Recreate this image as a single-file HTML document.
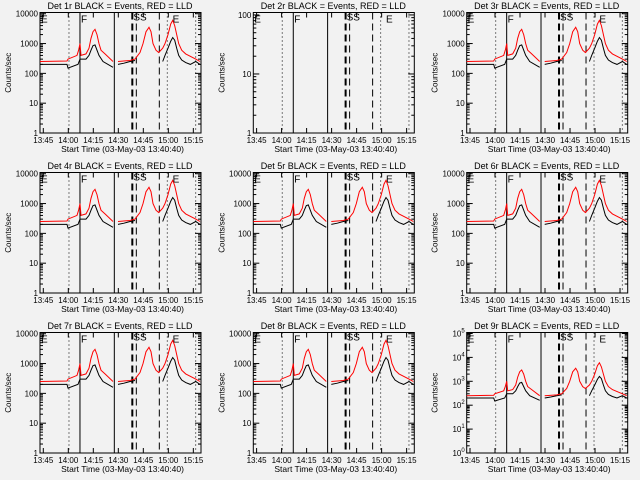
<!DOCTYPE html>
<html><head><meta charset="utf-8">
<style>
html,body{margin:0;padding:0;background:#f2f2f2;}
svg{display:block;}
text{font-family:"Liberation Sans",sans-serif;fill:#000;}
</style></head>
<body>
<svg id="chart" width="640" height="480" viewBox="0 0 640 480" xmlns="http://www.w3.org/2000/svg"></svg>
<script>
// minutes since 13:45
const redT = [-2,14.2,14.8,20.2,21.2,22,22.6,25.6,27.4,28.6,29.8,31,32.2,33.4,34.6,37,41.8,null,44.8,52,55,58,59.8,61.6,63.4,64.6,65.8,67.6,69.2,71.6,73,74.8,76.4,77.6,78.8,80,81.2,83,85.4,91.4,94];
const redV = [250,260,300,400,600,1000,400,450,700,1500,2500,3000,2000,1000,600,450,250,null,250,270,300,500,1000,2500,3500,2500,1000,600,500,700,1000,2000,4500,6000,4000,2000,1000,600,450,300,250];
const blkT = [-2,14.2,14.8,20.8,22,25.6,27.4,28.6,29.8,31,32.2,33.4,35.8,41.8,null,44.8,48.4,52,55,null,71.6,73,74.8,76.4,77.6,78.8,80,81.2,83,85.4,88.2,91.4,94];
const blkV = [200,200,150,200,300,300,400,600,850,900,600,400,250,160,null,200,220,250,270,null,250,400,700,1200,1600,1300,700,400,280,230,200,250,200];
const detNames = ["1r","2r","3r","4r","5r","6r","7r","8r","9r"];
const xTickLabels = ["13:45","14:00","14:15","14:30","14:45","15:00","15:15"];
const xTickMins = [0,15,30,45,60,75,90];
const vlineMins = [15.4,22,42.6,53.4,55.8,69.6,74.4,91.4];
const vlineStyle = ["dot","solid","solid","thick","dash","dash","dot","dot"];

const NS="http://www.w3.org/2000/svg";
const svg=document.getElementById('chart');
function mk(tag,attrs,parent){const e=document.createElementNS(NS,tag);for(const k in attrs)e.setAttribute(k,attrs[k]);(parent||svg).appendChild(e);return e;}

detNames.forEach((d,i)=>{
  const ox=(i%3)*213.33, oy=Math.floor(i/3)*160;
  const g=mk('g',{transform:`translate(${ox.toFixed(1)},${oy})`});
  
  
  const L=40,R=201,T=12.5,B=133;
  let ymin=1,ymax=11000,decades=[1,10,100,1000,10000],lab=["1","10","100","1000","10000"];
  if(i===1){ymax=110;decades=[1,10,100];lab=["1","10","100"];}
  if(i===8){ymax=110000;decades=[1,10,100,1000,10000,100000];lab=["0","1","2","3","4","5"];}
  const xs=m=>43.3+m*1.667;
  const ys=v=>B-(Math.log10(v)-Math.log10(ymin))/(Math.log10(ymax)-Math.log10(ymin))*(B-T);
  const t=mk('text',{x:120,y:9,'font-size':9,'text-anchor':'middle'},g);t.textContent=`Det ${d} BLACK = Events, RED = LLD`;
  
  const box=mk('rect',{x:L,y:T,width:R-L,height:B-T,fill:'none',stroke:'#000','stroke-width':1},g);
  
  decades.forEach((v,k)=>{
    const y=ys(v);
    mk('line',{x1:L,x2:L+6,y1:y,y2:y,stroke:'#000'},g);
    mk('line',{x1:R-6,x2:R,y1:y,y2:y,stroke:'#000'},g);
    const tx=mk('text',{x:L-2,y:y+3,'font-size':8,'text-anchor':'end'},g);
    if(i===8){tx.textContent='10';const s=mk('tspan',{'font-size':6,dy:-4},tx);s.textContent=lab[k];}
    else tx.textContent=lab[k];
    
    if(k<decades.length-1){for(let m=2;m<10;m++){const yy=ys(v*m);mk('line',{x1:L,x2:L+3,y1:yy,y2:yy,stroke:'#000'},g);mk('line',{x1:R-3,x2:R,y1:yy,y2:yy,stroke:'#000'},g);}}
  });
  const yl=mk('text',{x:0,y:0,'font-size':8,'text-anchor':'middle',transform:`translate(11,${(T+B)/2}) rotate(-90)`},g);
  yl.textContent='Counts/sec';
  xTickMins.forEach((m,k)=>{
    const x=xs(m);
    mk('line',{x1:x,x2:x,y1:B,y2:B-5,stroke:'#000'},g);
    mk('line',{x1:x,x2:x,y1:T,y2:T+5,stroke:'#000'},g);
    const tx=mk('text',{x:x,y:B+10,'font-size':8,'text-anchor':'middle'},g);tx.textContent=xTickLabels[k];
    
  });
  const xl=mk('text',{x:(L+R)/2+2,y:B+19,'font-size':8.5,'text-anchor':'middle'},g);
  xl.textContent='Start Time (03-May-03 13:40:40)';
  vlineMins.forEach((m,k)=>{
    const x=xs(m),st=vlineStyle[k];
    const a={x1:x,x2:x,y1:T,y2:B,stroke:'#000','stroke-width':st==='thick'?2:1};
    if(st==='dot')a['stroke-dasharray']='1,3';
    if(st==='dash'||st==='thick')a['stroke-dasharray']='7,4';
    const ln=mk('line',a,g);
  });
  [[xs(-2),'E'],[xs(22),'F'],[xs(77),'E']].forEach(([x,c])=>{
    const tx=mk('text',{x:x+1,y:T+10,'font-size':10},g);tx.textContent=c;
    
  });
  const ss=mk('text',{x:xs(54),y:T+8,'font-size':10},g);ss.textContent='SS';
  
  if(i===1) return;
  function path(T_,V_,col,name){
    let dstr='',pen=false;
    T_.forEach((m,k)=>{if(m===null){pen=false;return;}dstr+=(pen?'L':'M')+xs(m).toFixed(1)+','+ys(V_[k]).toFixed(1);pen=true;});
    const p=mk('path',{d:dstr,fill:'none',stroke:col,'stroke-width':1},g);
    
  }
  path(blkT,blkV,'#000','events-series');
  path(redT,redV,'#ff0000','lld-series');
});
</script>
</body></html>
